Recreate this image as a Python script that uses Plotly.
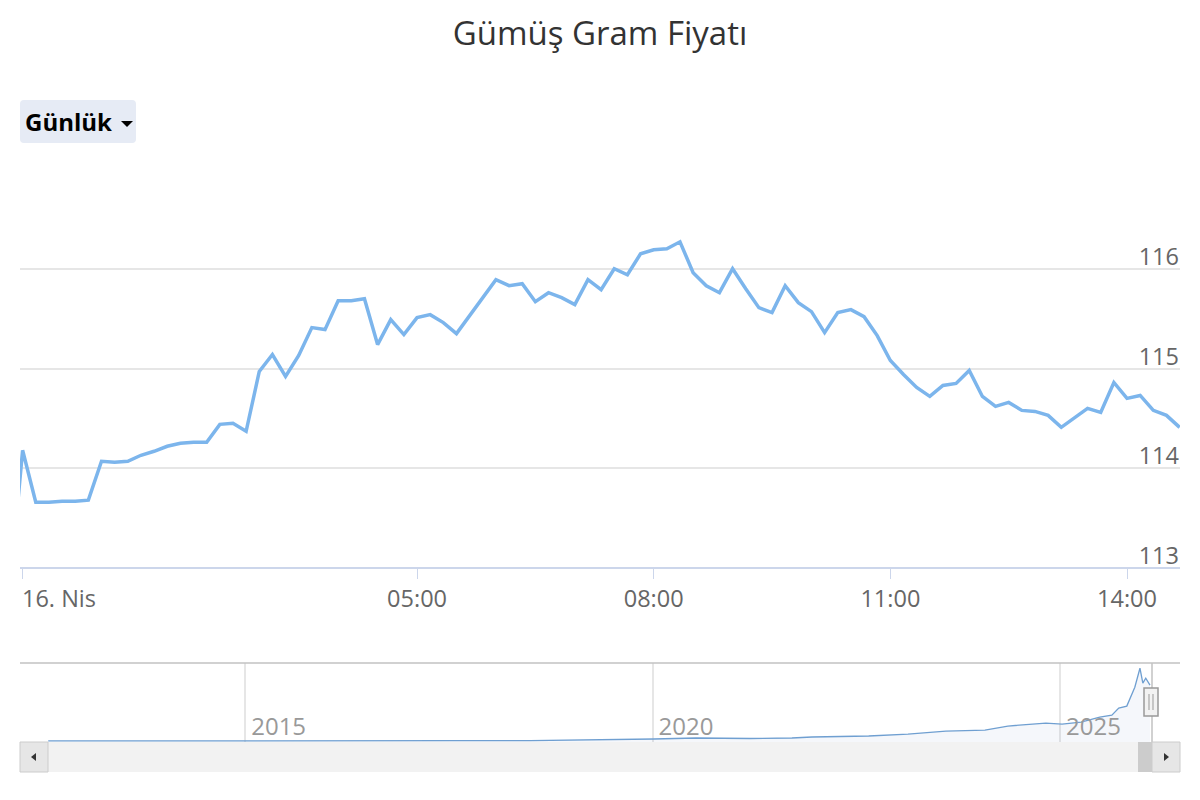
import plotly.graph_objects as go

# ---------------- data ----------------
prev_time = "2026-04-15 23:50"
prev_price = 112.75
day = "2026-04-16"
day_times = [
    "00:00", "00:10", "00:20", "00:30", "00:40", "00:50",
    "01:00", "01:10", "01:20", "01:30", "01:40", "01:50",
    "02:00", "02:10", "02:20", "02:30", "02:40", "02:50",
    "03:00", "03:10", "03:20", "03:30", "03:40", "03:50",
    "04:00", "04:10", "04:20", "04:30", "04:40", "04:50",
    "05:00", "05:10", "05:20", "05:30", "05:40", "05:50",
    "06:00", "06:10", "06:20", "06:30", "06:40", "06:50",
    "07:00", "07:10", "07:20", "07:30", "07:40", "07:50",
    "08:00", "08:10", "08:20", "08:30", "08:40", "08:50",
    "09:00", "09:10", "09:20", "09:30", "09:40", "09:50",
    "10:00", "10:10", "10:20", "10:30", "10:40", "10:50",
    "11:00", "11:10", "11:20", "11:30", "11:40", "11:50",
    "12:00", "12:10", "12:20", "12:30", "12:40", "12:50",
    "13:00", "13:10", "13:20", "13:30", "13:40", "13:50",
    "14:00", "14:10", "14:20", "14:30", "14:40",
]
day_prices = [
    114.18, 113.66, 113.66, 113.67, 113.67, 113.68,
    114.07, 114.06, 114.07, 114.13, 114.17, 114.22,
    114.25, 114.26, 114.26, 114.44, 114.45, 114.37,
    114.97, 115.14, 114.92, 115.13, 115.41, 115.39,
    115.68, 115.68, 115.70, 115.24, 115.49, 115.34,
    115.51, 115.54, 115.46, 115.35, 115.53, 115.71,
    115.89, 115.83, 115.85, 115.67, 115.76, 115.71,
    115.64, 115.89, 115.79, 116.00, 115.94, 116.15,
    116.19, 116.20, 116.27, 115.96, 115.83, 115.76,
    116.00, 115.80, 115.61, 115.56, 115.83, 115.66,
    115.57, 115.36, 115.56, 115.59, 115.52, 115.33,
    115.08, 114.94, 114.81, 114.72, 114.83, 114.85,
    114.98, 114.72, 114.62, 114.66, 114.58, 114.57,
    114.53, 114.41, 114.50, 114.60, 114.56, 114.86,
    114.70, 114.73, 114.58, 114.53, 114.41,
]

x_tick_vals = ["2026-04-16 00:00", "2026-04-16 05:00", "2026-04-16 08:00",
               "2026-04-16 11:00", "2026-04-16 14:00"]
x_tick_text = ["", "05:00", "08:00", "11:00", "14:00"]
first_day_label = "16. Nis"
x_range = ["2026-04-15 23:58:01", "2026-04-16 14:40:18"]

y_tick_vals = [113, 114, 115, 116, 117]
y_tick_text = ["113", "114", "115", "116", ""]
y_range = [112.8797, 117.01]

nav_dates = [
    "2012-08-01", "2013-11-01", "2015-01-01", "2016-04-15", "2017-07-07",
    "2018-07-01", "2019-05-10", "2020-01-07", "2020-07-14", "2021-03-13",
    "2021-09-17", "2021-12-16", "2022-08-27", "2023-02-19", "2023-08-08",
    "2024-01-30", "2024-05-12", "2024-07-18", "2024-10-29", "2025-01-10",
    "2025-04-05", "2025-06-28", "2025-08-21", "2025-09-21", "2025-10-27",
    "2025-12-02", "2025-12-25", "2026-01-07", "2026-01-20", "2026-02-08",
]
nav_values = [
    2.2, 2.0, 2.0, 2.4, 2.6,
    2.8, 4.0, 6.0, 8.0, 7.0,
    8.0, 10.0, 12.0, 16.0, 22.0,
    24.0, 32.0, 34.0, 38.0, 36.0,
    40.0, 50.0, 54.0, 68.0, 72.0,
    110.0, 148.0, 118.0, 128.0, 114.0,
]
nav_tick_vals = ["2015-01-01", "2020-01-01", "2025-01-01"]
nav_tick_text = ["2015", "2020", "2025"]
nav_range = ["2012-07-31", "2026-02-17"]
nav_y_range = [0, 158.5]

range_label = "Günlük"
title_text = "Gümüş Gram Fiyatı"

# ---------------- figure ----------------
W, H = 1200, 800
FONT = "Open Sans"


def px(v):
    return v / W


def py(v):
    return 1 - v / H


def P(x, y):
    return f"{px(x):.5f} {py(y):.5f}"


times = [prev_time] + [day + " " + t for t in day_times]
prices = [prev_price] + day_prices

fig = go.Figure()
fig.add_trace(go.Scatter(
    x=times, y=prices, mode="lines",
    line=dict(color="#7cb5ec", width=3.5),
    xaxis="x", yaxis="y", showlegend=False,
    hovertemplate="%{x|%H:%M}<br>%{y:.2f}<extra></extra>",
))
fig.add_trace(go.Scatter(
    x=nav_dates, y=nav_values, mode="lines",
    line=dict(color="#6f9fd1", width=1.3),
    fill="tozeroy", fillcolor="rgba(51,92,173,0.05)",
    xaxis="x2", yaxis="y2", showlegend=False, hoverinfo="skip",
))

shapes = []
# range-selector dropdown box (rounded)
bx0, bx1, by0, by1, r = 20, 136, 100, 143, 4
shapes.append(dict(
    type="path", xref="paper", yref="paper",
    path=(f"M {P(bx0 + r, by0)} L {P(bx1 - r, by0)} Q {P(bx1, by0)} {P(bx1, by0 + r)} "
          f"L {P(bx1, by1 - r)} Q {P(bx1, by1)} {P(bx1 - r, by1)} "
          f"L {P(bx0 + r, by1)} Q {P(bx0, by1)} {P(bx0, by1 - r)} "
          f"L {P(bx0, by0 + r)} Q {P(bx0, by0)} {P(bx0 + r, by0)} Z"),
    fillcolor="#e6ebf5", line=dict(width=0)))
shapes.append(dict(type="path", xref="paper", yref="paper",
                   path=f"M {P(121, 121)} L {P(133, 121)} L {P(127, 127)} Z",
                   fillcolor="#000000", line=dict(width=0)))
# navigator outline (top line + line at selected range)
shapes.append(dict(type="line", xref="paper", yref="paper",
                   x0=px(20), x1=px(1180), y0=py(663), y1=py(663),
                   line=dict(color="#c2c2c2", width=1.5)))
shapes.append(dict(type="line", xref="paper", yref="paper",
                   x0=px(1152), x1=px(1152), y0=py(663), y1=py(742),
                   line=dict(color="#c2c2c2", width=1.5)))
# scrollbar
shapes.append(dict(type="rect", xref="paper", yref="paper",
                   x0=px(20), x1=px(1180), y0=py(772), y1=py(742),
                   fillcolor="#f2f2f2", line=dict(width=0), layer="above"))
shapes.append(dict(type="rect", xref="paper", yref="paper",
                   x0=px(1138), x1=px(1152), y0=py(772), y1=py(742),
                   fillcolor="#cccccc", line=dict(width=0), layer="above"))
for a, b in [(20, 48), (1152, 1180)]:
    shapes.append(dict(type="rect", xref="paper", yref="paper",
                       x0=px(a), x1=px(b), y0=py(772), y1=py(742),
                       fillcolor="#e6e6e6", line=dict(color="#cccccc", width=1),
                       layer="above"))
shapes.append(dict(type="path", xref="paper", yref="paper",
                   path=f"M {P(36, 753)} L {P(31, 757)} L {P(36, 761)} Z",
                   fillcolor="#333333", line=dict(width=0), layer="above"))
shapes.append(dict(type="path", xref="paper", yref="paper",
                   path=f"M {P(1164, 753)} L {P(1169, 757)} L {P(1164, 761)} Z",
                   fillcolor="#333333", line=dict(width=0), layer="above"))
# navigator handle
shapes.append(dict(type="rect", xref="paper", yref="paper",
                   x0=px(1144), x1=px(1158), y0=py(716), y1=py(688),
                   fillcolor="#f2f2f2", line=dict(color="#999999", width=1.5),
                   layer="above"))
for hx in (1149, 1153):
    shapes.append(dict(type="line", xref="paper", yref="paper",
                       x0=px(hx), x1=px(hx), y0=py(694), y1=py(710),
                       line=dict(color="#999999", width=1), layer="above"))

fig.update_layout(
    width=W, height=H,
    margin=dict(l=0, r=0, t=0, b=0, pad=0),
    paper_bgcolor="white", plot_bgcolor="white",
    font=dict(family=FONT, color="#666666"),
    title=dict(text=title_text, x=0.5, xanchor="center", xref="paper",
               y=py(33), yanchor="middle", yref="container",
               font=dict(family=FONT, size=33, color="#333333")),
    xaxis=dict(domain=[px(20), px(1180)], range=x_range, type="date",
               anchor="free", position=py(568),
               tickvals=x_tick_vals, ticktext=x_tick_text,
               ticks="outside", ticklen=10, tickwidth=1, tickcolor="#ccd6eb",
               showline=True, linecolor="#ccd6eb", linewidth=1.5,
               showgrid=False, zeroline=False, fixedrange=True,
               tickfont=dict(family=FONT, size=23.5, color="#666666")),
    yaxis=dict(domain=[py(580), py(168)], range=y_range, anchor="x",
               side="right", ticklabelposition="inside",
               tickvals=y_tick_vals, ticktext=y_tick_text,
               ticks="", ticklabelshift=-12, ticklabelstandoff=-2,
               showgrid=True, gridcolor="#e6e6e6", gridwidth=1.5,
               showline=False, zeroline=False, fixedrange=True,
               tickfont=dict(family=FONT, size=23.5, color="#666666")),
    xaxis2=dict(domain=[px(48), px(1152)], range=nav_range, type="date",
                anchor="y2", tickvals=nav_tick_vals, ticktext=nav_tick_text,
                ticklabelposition="inside right", ticks="",
                ticklabelshift=6, ticklabelstandoff=-4,
                showgrid=True, gridcolor="#e6e6e6", gridwidth=1.5,
                showline=False, zeroline=False, fixedrange=True,
                tickfont=dict(family=FONT, size=24, color="#999999")),
    yaxis2=dict(domain=[py(742), py(663)], range=nav_y_range, anchor="x2",
                visible=False, fixedrange=True),
    shapes=shapes,
    annotations=[
        dict(text=first_day_label, x=x_tick_vals[0], xref="x",
             xanchor="left", xshift=-3, y=py(598), yref="paper",
             yanchor="middle", showarrow=False,
             font=dict(family=FONT, size=23.5, color="#666666")),
        dict(text="<b>" + range_label + "</b>", x=px(23), xref="paper",
             xanchor="left", y=py(122), yref="paper", yanchor="middle",
             showarrow=False,
             font=dict(family=FONT, size=24, color="#000000")),
    ],
)

fig.write_html(
    "out.html",
    config={"displayModeBar": False},
    post_script="document.body.style.margin='0';document.body.style.overflow='hidden';",
)
